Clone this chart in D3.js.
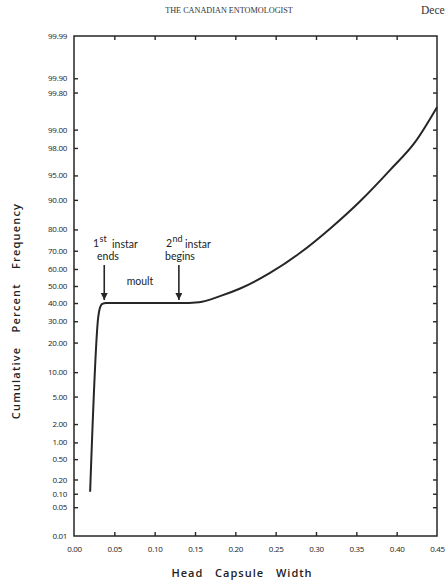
<!DOCTYPE html>
<html>
<head>
<meta charset="utf-8">
<script src="https://cdn.jsdelivr.net/npm/d3@7"></script>
<style>
  body { margin: 0; background: #fff; }
  svg { display: block; }
</style>
</head>
<body>
<script>
// head capsule width (mm) vs cumulative percent frequency
const widths   = [0.020, 0.030, 0.032, 0.035, 0.040, 0.130, 0.155, 0.181, 0.206, 0.243, 0.280, 0.317, 0.355, 0.392, 0.423, 0.450];
const percents = [0.11,  32,    37,    39.5,  40,    40,    40.5,  44.0,  48.5,  57.7,  68.8,  80.2,  89.7,  95.8,  98.4,  99.61];

const yTickValues = [99.99, 99.9, 99.8, 99, 98, 95, 90, 80, 70, 60, 50, 40, 30, 20, 10, 5, 2, 1, 0.5, 0.2, 0.1, 0.05, 0.01];
const xTickValues = [0, 0.05, 0.1, 0.15, 0.2, 0.25, 0.3, 0.35, 0.4, 0.45];

const size = { width: 446, height: 585 };
const frame = { left: 74, right: 437, top: 36, bottom: 536 };
const ink = '#262626';
const sans = "'Open Sans', 'DejaVu Sans', sans-serif";

// inverse normal cdf (Acklam) for the probability-paper axis
function probit(p) {
  const a = [-39.69683028665376, 220.9460984245205, -275.9285104469687, 138.3577518672690, -30.66479806614716, 2.506628277459239];
  const b = [-54.47609879822406, 161.5858368580409, -155.6989798598866, 66.80131188771972, -13.28068155288572];
  const c = [-0.007784894002430293, -0.3223964580411365, -2.400758277161838, -2.549732539343734, 4.374664141464968, 2.938163982698783];
  const d = [0.007784695709041462, 0.3224671290700398, 2.445134137142996, 3.754408661907416];
  const pl = 0.02425;
  let q, r;
  if (p < pl) {
    q = Math.sqrt(-2 * Math.log(p));
    return (((((c[0]*q+c[1])*q+c[2])*q+c[3])*q+c[4])*q+c[5]) / ((((d[0]*q+d[1])*q+d[2])*q+d[3])*q+1);
  } else if (p <= 1 - pl) {
    q = p - 0.5; r = q * q;
    return (((((a[0]*r+a[1])*r+a[2])*r+a[3])*r+a[4])*r+a[5])*q / (((((b[0]*r+b[1])*r+b[2])*r+b[3])*r+b[4])*r+1);
  }
  q = Math.sqrt(-2 * Math.log(1 - p));
  return -(((((c[0]*q+c[1])*q+c[2])*q+c[3])*q+c[4])*q+c[5]) / ((((d[0]*q+d[1])*q+d[2])*q+d[3])*q+1);
}
const z = pct => probit(pct / 100);

const xScale = d3.scaleLinear()
  .domain([0, 0.45])
  .range([frame.left, frame.right]);
const zScale = d3.scaleLinear()
  .domain([z(0.01), z(99.99)])
  .range([frame.bottom, frame.top]);
const yScale = pct => zScale(z(pct));

const svg = d3.select('body')
  .append('svg')
  .attr('width', size.width)
  .attr('height', size.height);

// page header
svg.append('text')
  .attr('x', 229).attr('y', 13)
  .attr('text-anchor', 'middle')
  .attr('font-family', "'Liberation Serif', serif")
  .attr('font-size', 8.2)
  .attr('fill', '#333')
  .text('THE CANADIAN ENTOMOLOGIST');
svg.append('text')
  .attr('x', 421).attr('y', 14)
  .attr('font-family', "'Liberation Serif', serif")
  .attr('font-size', 11.5)
  .attr('fill', '#333')
  .text('Dece');

// frame
svg.append('rect')
  .attr('x', frame.left).attr('y', frame.top)
  .attr('width', frame.right - frame.left)
  .attr('height', frame.bottom - frame.top)
  .attr('fill', 'none')
  .attr('stroke', ink)
  .attr('stroke-width', 1.5);

// axes with inward ticks
const leftAxis = svg.append('g')
  .attr('transform', `translate(${frame.left},0)`)
  .call(d3.axisLeft(zScale)
    .tickValues(yTickValues.map(z))
    .tickSize(-4)
    .tickPadding(7)
    .tickFormat((d, i) => yTickValues[i].toFixed(2)));
const rightAxis = svg.append('g')
  .attr('transform', `translate(${frame.right},0)`)
  .call(d3.axisRight(zScale)
    .tickValues(yTickValues.map(z))
    .tickSize(-4)
    .tickFormat(''));
const bottomAxis = svg.append('g')
  .attr('transform', `translate(0,${frame.bottom})`)
  .call(d3.axisBottom(xScale)
    .tickValues(xTickValues)
    .tickSize(-4)
    .tickPadding(10)
    .tickFormat(d3.format('.2f')));
const topAxis = svg.append('g')
  .attr('transform', `translate(0,${frame.top})`)
  .call(d3.axisTop(xScale)
    .tickValues(xTickValues)
    .tickSize(-4)
    .tickFormat(''));

[leftAxis, rightAxis, bottomAxis, topAxis].forEach(g => {
  g.select('.domain').remove();
  g.selectAll('.tick line').attr('stroke', ink).attr('stroke-width', 1.4);
  g.selectAll('.tick text')
    .attr('fill', '#222')
    .attr('font-family', sans)
    .attr('font-size', 8)
    .attr('letter-spacing', -0.3);
});
// no tick marks on the frame corners
leftAxis.selectAll('.tick line').filter((d, i) => i === 0 || i === yTickValues.length - 1).remove();
rightAxis.selectAll('.tick line').filter((d, i) => i === 0 || i === yTickValues.length - 1).remove();
bottomAxis.selectAll('.tick line').filter((d, i) => i === 0 || i === xTickValues.length - 1).remove();
topAxis.selectAll('.tick line').filter((d, i) => i === 0 || i === xTickValues.length - 1).remove();

// the data curve
const line = d3.line()
  .x((d, i) => xScale(widths[i]))
  .y(d => yScale(d))
  .curve(d3.curveMonotoneX);

svg.append('path')
  .attr('d', line(percents))
  .attr('fill', 'none')
  .attr('stroke', ink)
  .attr('stroke-width', 2)
  .attr('stroke-linejoin', 'round');

// annotations: "1st instar / ends", "2nd instar / begins"
const notes = svg.append('g')
  .attr('font-family', "Lato, 'Open Sans', sans-serif")
  .attr('fill', '#222')
  .attr('font-size', 10.5);

function stage(x, num, sup) {
  notes.append('text').attr('x', x).attr('y', 247).text(num);
  notes.append('text').attr('x', x + 6.5).attr('y', 242).attr('font-size', 9).text(sup);
  notes.append('text').attr('x', x + sup.length * 5 + 9).attr('y', 248).text('instar');
}
stage(93, '1', 'st');
stage(166, '2', 'nd');
notes.append('text').attr('x', 108).attr('y', 260).attr('text-anchor', 'middle').text('ends');
notes.append('text').attr('x', 180).attr('y', 260).attr('text-anchor', 'middle').text('begins');
notes.append('text').attr('x', 140).attr('y', 285).attr('text-anchor', 'middle').text('moult');

svg.append('defs').append('marker')
  .attr('id', 'head')
  .attr('viewBox', '0 0 10 10')
  .attr('refX', 10).attr('refY', 5)
  .attr('markerWidth', 7).attr('markerHeight', 7)
  .attr('markerUnits', 'userSpaceOnUse')
  .attr('orient', 'auto')
  .append('path')
  .attr('d', 'M0,0 L10,5 L0,10 Z')
  .attr('fill', ink);

[0.0375, 0.13].forEach(w => {
  svg.append('line')
    .attr('x1', xScale(w)).attr('x2', xScale(w))
    .attr('y1', 265).attr('y2', yScale(40) - 3)
    .attr('stroke', ink)
    .attr('stroke-width', 1.6)
    .attr('marker-end', 'url(#head)');
});

// axis titles
svg.append('text')
  .attr('x', 242).attr('y', 577)
  .attr('text-anchor', 'middle')
  .attr('font-family', sans)
  .attr('font-size', 11)
  .attr('font-weight', 600)
  .attr('letter-spacing', 1)
  .attr('word-spacing', 8)
  .attr('fill', '#222')
  .text('Head Capsule Width');

svg.append('text')
  .attr('transform', 'translate(20,311) rotate(-90)')
  .attr('text-anchor', 'middle')
  .attr('font-family', sans)
  .attr('font-size', 11)
  .attr('font-weight', 600)
  .attr('letter-spacing', 1.2)
  .attr('word-spacing', 10)
  .attr('fill', '#222')
  .text('Cumulative Percent Frequency');
</script>
</body>
</html>
